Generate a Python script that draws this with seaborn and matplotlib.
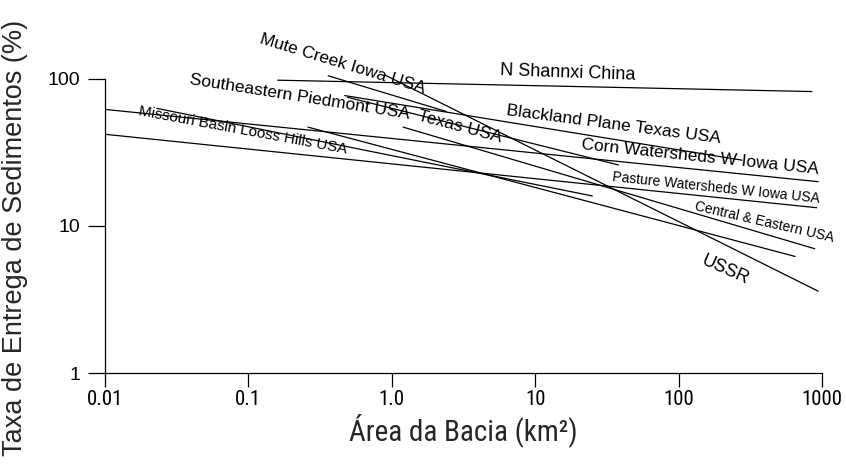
import matplotlib
matplotlib.use("Agg")
import matplotlib.pyplot as plt
import seaborn as sns
import pandas as pd
from matplotlib import font_manager

sns.set_theme(style="ticks")
plt.rcParams['font.family'] = ['Liberation Sans', 'DejaVu Sans']

names = [
    "N Shannxi China",
    "Mute Creek Iowa USA",
    "USSR",
    "Corn Watersheds W Iowa USA",
    "Pasture Watersheds W Iowa USA",
    "Missouri Basin Looss Hills USA",
    "Southeastern Piedmont USA",
    "Texas USA",
    "Central & Eastern USA",
    "Blackland Plane Texas USA",
]
area_start = [0.16, 0.36, 0.9, 0.01, 0.01, 0.023, 0.26, 0.49, 1.2, 0.47]
area_end = [850, 2.4, 940, 940, 920, 25, 650, 38, 890, 277]
sdr_start = [98, 105, 106, 62, 42, 63, 47, 75, 47, 77]
sdr_end = [82, 60, 3.6, 20, 13.3, 16, 6.2, 26, 7.0, 28]

x_ticks = [0.01, 0.1, 1, 10, 100, 1000]
x_tick_labels = ["0.01", "0.1", "1.0", "10", "100", "1000"]
y_ticks = [1, 10, 100]
y_tick_labels = ["1", "10", "100"]

rows = []
for n, a0, a1, s0, s1 in zip(names, area_start, area_end, sdr_start, sdr_end):
    rows.append({"curve": n, "area": a0, "sdr": s0})
    rows.append({"curve": n, "area": a1, "sdr": s1})
df = pd.DataFrame(rows)

# look for an installed narrow / condensed sans family
installed = {f.name for f in font_manager.fontManager.ttflist}
narrow = None
for cand in ['Liberation Sans Narrow', 'DejaVu Sans Condensed', 'Roboto Condensed',
             'Open Sans Condensed', 'Noto Sans Condensed', 'Arial Narrow']:
    if cand in installed:
        narrow = cand
        break
if narrow is None:
    for f in font_manager.fontManager.ttflist:
        if ('Narrow' in f.name or 'Condensed' in f.name) and 'Mono' not in f.name and 'Serif' not in f.name:
            narrow = f.name
            break
narrow_fam = ([narrow] if narrow else []) + ['Liberation Sans', 'DejaVu Sans']
tick_fs = 15 if narrow else 14
xlab_fs = 21 if narrow else 19

fig = plt.figure(figsize=(8.46, 4.66), dpi=100)
ax = fig.add_axes([105/846, 1-373/466, 717/846, 343/466])

sns.lineplot(data=df, x="area", y="sdr", units="curve", estimator=None,
             color="black", linewidth=0.9, ax=ax, legend=False)

ax.set_xscale("log")
ax.set_yscale("log")
ax.set_xlim(0.01, 1000)
ax.set_ylim(1, 215)

ax.set_xticks(x_ticks)
ax.set_xticklabels(x_tick_labels, family=narrow_fam, fontsize=tick_fs)
ax.set_yticks(y_ticks)
ax.set_yticklabels(y_tick_labels, fontsize=14)
ax.minorticks_off()
ax.tick_params(axis='y', length=12, width=0.9, pad=6, colors='black')
ax.tick_params(axis='x', length=10, width=0.9, pad=2, colors='black')

for s in ["top", "right"]:
    ax.spines[s].set_visible(False)
for s in ["left", "bottom"]:
    ax.spines[s].set_color("black")
    ax.spines[s].set_linewidth(0.9)
ax.spines["left"].set_bounds(1, 100)
ax.set_facecolor("white")
ax.grid(False)

ax.set_xlabel("Área da Bacia (km²)", family=narrow_fam, fontsize=xlab_fs)
ax.set_ylabel("Taxa de Entrega de Sedimentos (%)", fontsize=19.5)
ax.xaxis.set_label_coords(0.5, -0.165)
ax.xaxis.label.set_verticalalignment('center')
ax.yaxis.set_label_coords(-0.126, 0.395)
ax.yaxis.label.set_verticalalignment('center')

labels = [
    ("Mute Creek Iowa USA", 0.457, 126.5, -17, 12.5),
    ("N Shannxi China", 16.9, 110, -2, 13),
    ("Southeastern Piedmont USA", 0.229, 75, -9, 12.5),
    ("Texas USA", 3.0, 47, -15, 12.5),
    ("Missouri Basin Looss Hills USA", 0.092, 45, -10.5, 11),
    ("Blackland Plane Texas USA", 35, 48.6, -7.5, 12.5),
    ("Corn Watersheds W Iowa USA", 141, 29.5, -6, 12.5),
    ("Pasture Watersheds W Iowa USA", 182, 18.1, -6, 10),
    ("Central & Eastern USA", 394, 10.6, -13, 10),
    ("USSR", 211, 5.0, -24, 13),
]
for txt, x, y, rot, fs in labels:
    ax.text(x, y, txt, rotation=rot, rotation_mode='anchor', ha='center',
            va='center', fontsize=fs, color='black', clip_on=False)

fig.savefig("out.png", dpi=100, facecolor="white")
